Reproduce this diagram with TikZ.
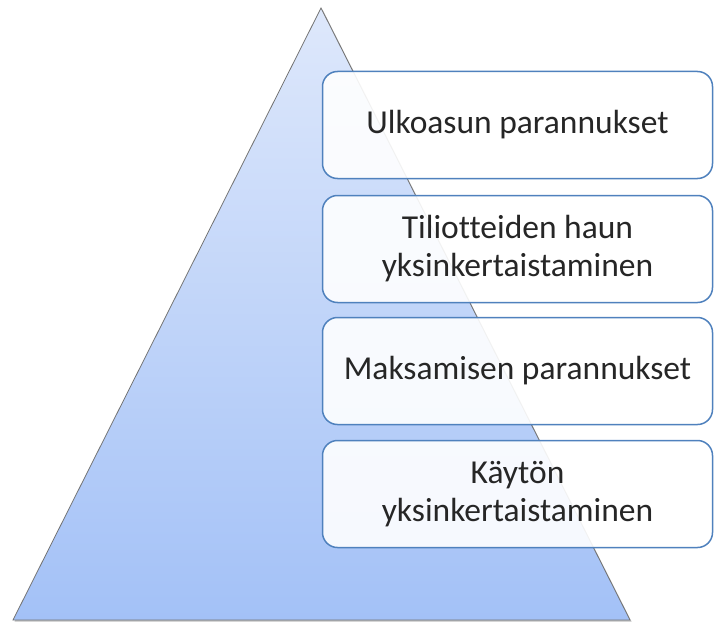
\documentclass[tikz,border=0pt]{standalone}
\usepackage{fontspec}
\setmainfont{Carlito}[Ligatures=NoCommon]
\usetikzlibrary{calc}
\definecolor{boxline}{HTML}{4F81BD}
\definecolor{tritop}{HTML}{DEE8FB}
\definecolor{tribot}{HTML}{A3C1F7}
\begin{document}
\begin{tikzpicture}[x=1pt,y=-1pt,
  itembox/.style={draw=boxline, line width=1.5pt, rounded corners=15pt, fill=white, fill opacity=0.9, text opacity=1,
    minimum width=390pt, minimum height=107pt, align=center, font=\fontsize{33.5}{38}\selectfont, text=black!85, inner sep=0pt}]
\useasboundingbox (0,0) rectangle (714,623);
% triangle
\coordinate (apex) at (321,8);
\coordinate (bl) at (13,620);
\coordinate (br) at (630,620);
\fill[black!25] ($(apex)+(1.5,1.5)$) -- ($(br)+(1.5,1.5)$) -- ($(bl)+(1.5,1.5)$) -- cycle;
\shade[top color=tritop, bottom color=tribot, draw=black!55, line width=0.8pt] (apex) -- (br) -- (bl) -- cycle;
% boxes
\node[itembox] (b1) at (517.5,125) {Ulkoasun parannukset};
\node[itembox] (b2) at (517.5,249) {Tiliotteiden haun\\yksinkertaistaminen};
\node[itembox] (b3) at (517.5,371) {Maksamisen parannukset};
\node[itembox] (b4) at (517.5,494) {Käytön\\yksinkertaistaminen};
\end{tikzpicture}
\end{document}
